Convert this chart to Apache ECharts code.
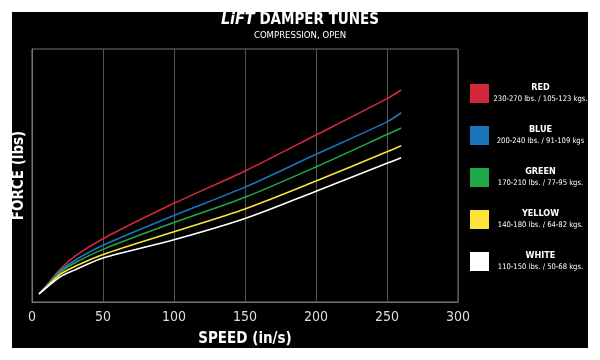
<!DOCTYPE html>
<html><head><meta charset="utf-8">
<script src="https://cdn.jsdelivr.net/npm/echarts@6/dist/echarts.min.js"></script>
<style>html,body{margin:0;padding:0;background:#fff;width:600px;height:360px;overflow:hidden}
#c{position:absolute;left:12px;top:12px;width:576px;height:336px}</style>
</head><body><div id="c"></div>
<script>
const speeds = [5, 10, 20, 30, 50, 100, 150, 200, 250, 260];
const redForce    = [16, 32, 65, 90, 125, 195, 259, 330, 402, 419];
const blueForce   = [16, 31, 62, 82, 112, 171, 227, 292, 356, 374];
const greenForce  = [16, 30, 59, 77, 104, 157, 207, 267, 331, 344];
const yellowForce = [16, 29, 55, 70, 94, 139, 184, 239, 297, 309];
const whiteForce  = [16, 28, 50, 63, 87, 123, 165, 219, 274, 285];
const tuneNames = ['RED', 'BLUE', 'GREEN', 'YELLOW', 'WHITE'];
const tuneRanges = ['230-270 lbs. / 105-123 kgs.', '200-240 lbs. / 91-109 kgs', '170-210 lbs. / 77-95 kgs.', '140-180 lbs. / 64-82 kgs.', '110-150 lbs. / 50-68 kgs.'];
const tuneColors = ['#d3283a', '#1b75bc', '#1ea84a', '#fbe33a', '#ffffff'];
const xTicks = [0, 50, 100, 150, 200, 250, 300];

const F = '"DejaVu Sans"';
const BW = 'bold condensed';
const NW = 'condensed';
const allData = [redForce, blueForce, greenForce, yellowForce, whiteForce];
const chart = echarts.init(document.getElementById('c'));
chart.setOption({
  backgroundColor: '#000',
  animation: false,
  title: {
    text: '{logo|LiFT} DAMPER TUNES',
    subtext: 'COMPRESSION, OPEN',
    left: 'center', top: 0, itemGap: 3, padding: [0, 0, 0, 12],
    textStyle: { color: '#fff', fontFamily: F, fontStyle: 'normal', fontWeight: BW, fontSize: 15,
      rich: { logo: { color: '#fff', fontFamily: F, fontWeight: BW, fontStyle: 'italic', fontSize: 16 } } },
    subtextStyle: { color: '#fff', fontFamily: F, fontStyle: 'normal', fontWeight: NW, fontSize: 9.5 }
  },
  grid: { left: 20, right: 130, top: 37, bottom: 46, containLabel: false, outerBoundsMode: 'none',
    show: true, borderColor: '#777', borderWidth: 1, backgroundColor: 'transparent' },
  legend: {
    orient: 'vertical', left: 458, top: 71, padding: 0, itemGap: 21.5,
    itemWidth: 19, itemHeight: 19, icon: 'rect',
    data: tuneNames.map((n, i) => ({ name: n, itemStyle: { color: tuneColors[i] } })),
    formatter: function (name) {
      const i = tuneNames.indexOf(name);
      return '{n|' + name + '}\n{r|' + tuneRanges[i] + '}';
    },
    textStyle: {
      color: '#fff', fontFamily: F,
      rich: {
        n: { color: '#fff', fontFamily: F, fontStyle: 'normal', fontWeight: BW, fontSize: 9, lineHeight: 12, align: 'center', width: 93 },
        r: { color: '#fff', fontFamily: F, fontStyle: 'normal', fontWeight: NW, fontSize: 7.6, lineHeight: 12, align: 'center', width: 93 }
      }
    }
  },
  xAxis: {
    type: 'value', min: 0, max: 300, interval: 50,
    name: 'SPEED (in/s)', nameLocation: 'middle', nameGap: 30,
    nameTextStyle: { color: '#fff', fontFamily: F, fontStyle: 'normal', fontWeight: BW, fontSize: 15 },
    axisLine: { show: true, lineStyle: { color: '#777' } },
    axisTick: { show: false },
    axisLabel: { color: '#ddd', fontFamily: F, fontStyle: 'normal', fontWeight: NW, fontSize: 14, margin: 8 },
    splitLine: { show: true, lineStyle: { color: '#555', width: 1 } }
  },
  yAxis: {
    type: 'value', min: 0, max: 500,
    name: 'FORCE (lbs)', nameLocation: 'middle', nameGap: 5, nameRotate: 90,
    nameTextStyle: { color: '#fff', fontFamily: F, fontStyle: 'normal', fontWeight: BW, fontSize: 15 },
    axisLine: { show: true, lineStyle: { color: '#777' } },
    axisTick: { show: false }, axisLabel: { show: false }, splitLine: { show: false }
  },
  series: tuneNames.map((n, i) => ({
    name: n, type: 'line', smooth: 0.3, showSymbol: false,
    data: speeds.map((s, k) => [s, allData[i][k]]),
    lineStyle: { color: tuneColors[i], width: 1.6 },
    itemStyle: { color: tuneColors[i] }
  }))
});
</script></body></html>
